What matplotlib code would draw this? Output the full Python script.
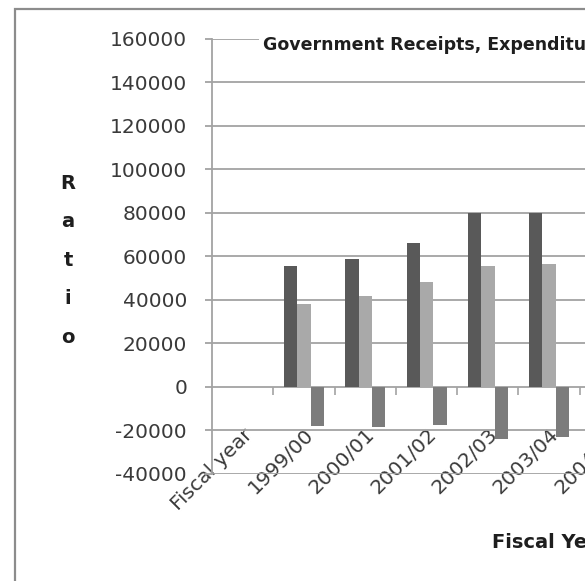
import numpy as np
import matplotlib
matplotlib.use("Agg")
import matplotlib.pyplot as plt
from matplotlib.patches import Rectangle

# ---- data ----
categories = ["Fiscal year", "1999/00", "2000/01", "2001/02", "2002/03", "2003/04", "2004/05"]
expenditure = [np.nan, 55500, 59000, 66200, 80000, 80000, np.nan]
receipts = [np.nan, 38300, 41700, 48300, 55500, 56700, np.nan]
deficit = [np.nan, -17900, -18400, -17600, -24200, -23000, np.nan]
yticks = [-40000, -20000, 0, 20000, 40000, 60000, 80000, 100000, 120000, 140000, 160000]
title = "Government Receipts, Expenditure"
xlabel = "Fiscal Year"
ylabel = "Ratio"

W, H = 585, 581
fig = plt.figure(figsize=(W / 100, H / 100), dpi=100)
fig.patch.set_facecolor("white")


def fx(px):
    return px / W


def fy(py):
    return 1 - py / H


ax_left, ax_top, ax_bottom, cat_w = 212, 39, 473.7, 61.3
n = len(categories)
ax = fig.add_axes([fx(ax_left), fy(ax_bottom), n * cat_w / W, (ax_bottom - ax_top) / H])
ax.set_xlim(-0.5, n - 0.5)
ymin, ymax = yticks[0], yticks[-1]
ax.set_ylim(ymin, ymax)

x = np.arange(n)
bw = 0.217
ax.bar(x - bw, expenditure, bw, color="#595959", zorder=3)
ax.bar(x, receipts, bw, color="#a9a9a9", zorder=3)
ax.bar(x + bw, deficit, bw, color="#7c7c7c", zorder=3)

grid_c = "#a3a3a3"
ax.set_yticks(yticks)
ax.set_yticklabels([str(v) for v in yticks])
ax.grid(axis="y", color=grid_c, lw=1.3, zorder=0)
ax.set_axisbelow(True)
for s in ["top", "right", "bottom"]:
    ax.spines[s].set_visible(False)
ax.spines["left"].set_color(grid_c)
ax.spines["left"].set_linewidth(1.3)
ax.tick_params(axis="y", length=5, width=1.3, color=grid_c, labelsize=14.5,
               labelcolor="#3a3a3a", pad=13)
ax.set_xticks([])

# category axis crossing at zero
loc = (0 - ymin) / (ymax - ymin)
sec = ax.secondary_xaxis(loc)
sec.set_xticks(x)
sec.set_xticklabels(categories)
sec.set_xticks(x[:-1] + 0.5, minor=True)
sec.tick_params(which="major", length=0, pad=27.5, labelsize=14.5, labelcolor="#3a3a3a")
sec.tick_params(which="minor", length=6, width=1.2, color=grid_c, direction="out")
for sp in sec.spines.values():
    sp.set_visible(False)
plt.setp(sec.get_xticklabels(), rotation=45, ha="right", va="top", rotation_mode="anchor")

fig.text(fx(263), fy(45), title, fontsize=12.5, fontweight="bold", ha="left", va="center",
         color="#1e1e1e", bbox=dict(facecolor="white", edgecolor="none", pad=3))
fig.text(fx(68), fy(260), "\n".join(ylabel), fontsize=14, fontweight="bold", ha="center",
         va="center", linespacing=2.3, color="#1e1e1e")
fig.text(fx(492), fy(542), xlabel, fontsize=14, fontweight="bold", ha="left", va="center",
         color="#1e1e1e")

fig.add_artist(Rectangle((fx(15), -0.5), 2, fy(9) + 0.5, transform=fig.transFigure,
                         fill=False, edgecolor="#8c8c8c", lw=1.6))

fig.savefig("out.png", dpi=100)
